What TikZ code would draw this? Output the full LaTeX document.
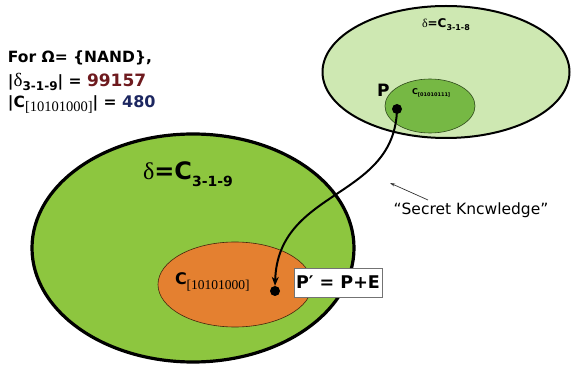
\documentclass[tikz,border=0pt]{standalone}
\usepackage{fontspec}
\setmainfont{DejaVu Sans}
\newfontfamily\tms{Liberation Serif}
\usetikzlibrary{arrows.meta,shapes.geometric}
\definecolor{biggreen}{RGB}{141,198,63}
\definecolor{palegreen}{RGB}{206,232,178}
\definecolor{midgreen}{RGB}{118,184,68}
\definecolor{orangefill}{RGB}{228,128,48}
\definecolor{numred}{RGB}{110,26,30}
\definecolor{numblue}{RGB}{28,38,96}
\newcommand\fs[1]{\fontsize{#1}{#1}\selectfont}
\newcommand\lowtext[2]{\raisebox{-#1}{#2}}
\tikzset{
  region/.style={ellipse, inner sep=0pt, outer sep=0pt},
  lbl/.style={anchor=base west, inner sep=0pt, outer sep=0pt, font=\bfseries},
  dotnode/.style={circle, fill=black, inner sep=0pt, minimum size=10pt},
}
\begin{document}
\begin{tikzpicture}[x=1pt,y=-1pt]
\useasboundingbox (0,0) rectangle (571,366);
% regions
\node[region, draw=black, line width=3.2pt, fill=biggreen, minimum width=322pt, minimum height=228pt] (big) at (193,248) {};
\node[region, draw=black!70!orangefill, line width=0.6pt, fill=orangefill, minimum width=154pt, minimum height=85pt] (orange) at (235,284.5) {};
\node[region, draw=black, line width=2pt, fill=palegreen, minimum width=247pt, minimum height=132pt] (top) at (446,72) {};
\node[region, draw=black!60!midgreen, line width=0.6pt, fill=midgreen, minimum width=90pt, minimum height=54pt] (inner) at (430,106) {};
% top-left text
\node[lbl, font=\bfseries\fs{15.5}] (l1) at (8,63) {For Ω= \{NAND\},};
\node[lbl, font=\bfseries\fs{15.5}] (l2) at (8,87) {|{\tms\mdseries\fs{19}δ}\lowtext{4pt}{\fs{12}3-1-9}| = \textcolor{numred}{\fs{17}99157}};
\node[lbl, font=\bfseries\fs{15.5}] (l3) at (8,108) {|C\lowtext{4pt}{\tms\mdseries\fs{14.5}[10101000]}| = \textcolor{numblue}{\fs{16}480}};
% region labels
\node[lbl, font=\bfseries\fs{24}] (bigl) at (143,180) {{\tms\mdseries δ}=C\lowtext{7pt}{\fs{14}3-1-9}};
\node[lbl, font=\bfseries\fs{12}] (topl) at (422,28) {{\tms\mdseries δ}=C\lowtext{3pt}{\fs{8}3-1-8}};
\node[lbl, font=\bfseries\fs{17}] (pl) at (377,97) {P};
\node[lbl, font=\bfseries\fs{8}] (cl) at (412,95) {C\lowtext{2pt}{\fs{5}[01010111]}};
\node[lbl, font=\bfseries\fs{16}] (ol) at (175,285) {C\lowtext{5pt}{\tms\mdseries\fs{13.5}[10101000]}};
% dots
\node[dotnode] (pdot) at (397,109) {};
\node[dotnode] (qdot) at (275,291) {};
% box
\node[draw=black!55, fill=white, line width=0.8pt, font=\bfseries\fs{17.5}, minimum width=88pt, minimum height=29pt, inner sep=0pt] (pe) at (338,282.5) {P′ = P+E};
% curved arrow
\draw[line width=2pt, -{Stealth[length=9pt,width=7pt]}] (pdot.center) .. controls (395,200) and (278,188) .. (qdot.north);
% secret knowledge
\node[anchor=base, inner sep=0pt, font=\fs{15.5}] (sk) at (471,215) {“Secret Kncwledge”};
\coordinate (skfrom) at (428,200);
\coordinate (skto) at (390,183);
\draw[line width=0.7pt, black!80, -{Stealth[length=5pt,width=3pt]}] (skfrom) -- (skto);
\end{tikzpicture}
\end{document}
